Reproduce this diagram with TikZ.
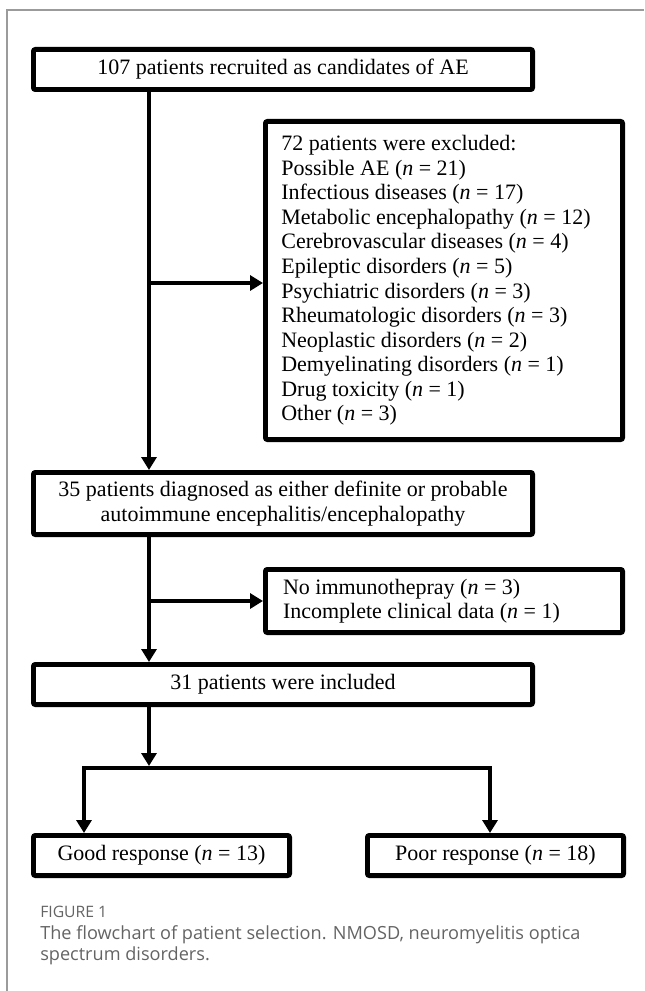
\documentclass[tikz,border=0pt]{standalone}
\usepackage{fontspec}
\setmainfont{Liberation Serif}
\newfontfamily\capfont{Open Sans}
\usepackage{xcolor}
\usetikzlibrary{arrows.meta, positioning, calc}
\definecolor{capgray}{RGB}{100,100,100}
\definecolor{framegray}{RGB}{155,155,155}

\begin{document}
\begin{tikzpicture}[
      x=0.75pt, y=0.75pt,
      every node/.style = {font=\fontsize{16.5}{18.4}\selectfont},
      blk/.style = {
        rectangle, rounded corners=1.5pt,
        minimum width=374.4pt, minimum height=30.15pt,
        inner sep=0pt, align=center,
        draw, line width=3.6pt
      },
      blkL/.style = {
        rectangle, rounded corners=1.5pt,
        minimum width=267.9pt,
        inner ysep=0pt, align=flush left,
        draw, line width=3.6pt
      },
      blkS/.style = {
        rectangle, rounded corners=1.5pt,
        minimum width=192.15pt, minimum height=30.15pt,
        inner sep=0pt, align=center,
        draw, line width=3.6pt
      },
      capt/.style = {inner sep=0pt, align=left, text=capgray},
      arr/.style = {-{Triangle[length=9.75pt, width=11.25pt]},
                    line width=3.4pt},
      arrLR/.style = {{Triangle[length=9.75pt, width=11.25pt]}-{Triangle[length=9.75pt, width=11.25pt]},
                    line width=3.4pt},
    ]
    \useasboundingbox (0,0) rectangle (644,-991);
    \draw[framegray, line width=1.2pt] (7,-991) -- (7,-10) -- (644,-10);

    \coordinate (trunk) at (149,0);
    \node[blk] (recruit) at (283,-69.5)
      {107 patients recruited as candidates of AE};
    \node[blk, minimum height=46.65pt, below=283.5pt of recruit] (diag)
      {35 patients diagnosed as either definite or probable\\
       autoimmune encephalitis/encephalopathy};
    \node[blk, below=93.75pt of diag] (incl)
      {31 patients were included};
    \node[blkL, text width=244pt, inner xsep=11.95pt, minimum height=238.65pt,
          anchor=north west] (excl) at (263,-119)
      {72 patients were excluded:\\
       Possible AE (\textit{n} = 21)\\
       Infectious diseases (\textit{n} = 17)\\
       Metabolic encephalopathy (\textit{n} = 12)\\
       Cerebrovascular diseases (\textit{n} = 4)\\
       Epileptic disorders (\textit{n} = 5)\\
       Psychiatric disorders (\textit{n} = 3)\\
       Rheumatologic disorders (\textit{n} = 3)\\
       Neoplastic disorders (\textit{n} = 2)\\
       Demyelinating disorders (\textit{n} = 1)\\
       Drug toxicity (\textit{n} = 1)\\
       Other (\textit{n} = 3)};
    \node[blkL, text width=241.5pt, inner xsep=13.2pt, minimum height=47.4pt,
          below=93.75pt of excl.south west, anchor=north west] (drop)
      {No immunothepray (\textit{n} = 3)\\
       Incomplete clinical data (\textit{n} = 1)};
    \node[blkS, below=94.5pt of incl.south west, anchor=north west] (good)
      {Good response (\textit{n} = 13)};
    \node[blkS, right=54.75pt of good] (poor)
      {Poor response (\textit{n} = 18)};

    \coordinate (split) at (149,-768);
    \coordinate (bl) at (84,-768);
    \coordinate (br) at (490,-768);

    \draw[arr] (recruit.south -| trunk) -- (diag.north -| trunk);
    \draw[arr] ($(excl.west -| trunk)+(0,-2.5)$) -- ($(excl.west)+(0,-2.5)$);
    \draw[arr] (diag.south -| trunk) -- (incl.north -| trunk);
    \draw[arr] (drop.west -| trunk) -- (drop.west);
    \draw[arr, shorten >=1.5pt] (incl.south -| trunk) -- (split);
    \draw[arrLR] (good.north -| bl) -- (bl) -- (br) -- (poor.north -| br);

    \node[capt, font=\capfont\fontsize{11.8}{14}\selectfont, anchor=west] (figno) at (40,-912)
      {FIGURE 1};
    \node[capt, font=\capfont\fontsize{13.6}{15.6}\selectfont, anchor=west] (caption) at (40,-945)
      {The flowchart of patient selection. NMOSD, neuromyelitis optica\\
       spectrum disorders.};
    \end{tikzpicture}
\end{document}
